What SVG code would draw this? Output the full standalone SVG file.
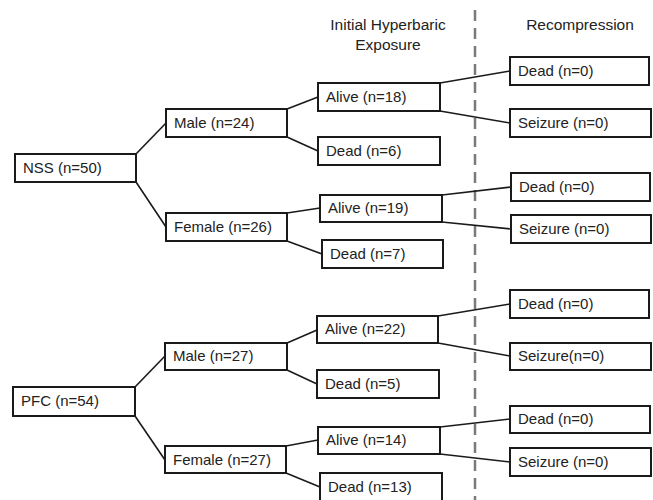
<svg xmlns="http://www.w3.org/2000/svg" width="653" height="500" viewBox="0 0 653 500">
<style>
.box{fill:#fff;stroke:#1a1a1a;stroke-width:2}
.t{font-family:"Liberation Sans",Arial,sans-serif;font-size:15px;fill:#222}
.h{font-family:"Liberation Sans",Arial,sans-serif;font-size:15.5px;fill:#222;text-anchor:middle}
.c{stroke:#1a1a1a;stroke-width:1.6;fill:none}
.dash{stroke:#7a7a7a;stroke-width:2.5;stroke-dasharray:11 7;fill:none}
</style>
<rect width="653" height="500" fill="#fff"/>
<g id="headers">
<text class="h" x="388" y="30">Initial Hyperbaric</text>
<text class="h" x="388" y="50">Exposure</text>
<text class="h" x="580" y="30">Recompression</text>
</g>
<line id="divider" class="dash" x1="475" y1="10" x2="475" y2="500"/>
<g id="connectors">
<line class="c" x1="136" y1="154" x2="166" y2="123"/>
<line class="c" x1="136" y1="182" x2="166" y2="227"/>
<line class="c" x1="287" y1="109" x2="318" y2="97"/>
<line class="c" x1="287" y1="137" x2="318" y2="151"/>
<line class="c" x1="287" y1="213" x2="320" y2="208"/>
<line class="c" x1="287" y1="241" x2="322" y2="254"/>
<line class="c" x1="440" y1="83" x2="510" y2="71"/>
<line class="c" x1="440" y1="111" x2="510" y2="123"/>
<line class="c" x1="442" y1="195" x2="511" y2="187"/>
<line class="c" x1="442" y1="222" x2="511" y2="229"/>
<line class="c" x1="135" y1="387" x2="165" y2="356"/>
<line class="c" x1="135" y1="416" x2="165" y2="460"/>
<line class="c" x1="287" y1="343" x2="317" y2="330"/>
<line class="c" x1="287" y1="370" x2="317" y2="384"/>
<line class="c" x1="286" y1="446" x2="318" y2="440"/>
<line class="c" x1="286" y1="473" x2="320" y2="487"/>
<line class="c" x1="438" y1="316" x2="510" y2="304"/>
<line class="c" x1="438" y1="343" x2="510" y2="356"/>
<line class="c" x1="440" y1="427" x2="510" y2="419"/>
<line class="c" x1="440" y1="454" x2="510" y2="462"/>
</g>
<g id="nss"><rect class="box" x="15" y="154" width="121" height="28"/><text class="t" x="23" y="173">NSS (n=50)</text></g>
<g id="nss-male"><rect class="box" x="166" y="109" width="121" height="28"/><text class="t" x="174" y="128">Male (n=24)</text></g>
<g id="nss-female"><rect class="box" x="166" y="213" width="121" height="28"/><text class="t" x="174" y="232">Female (n=26)</text></g>
<g id="nss-m-alive"><rect class="box" x="318" y="83" width="122" height="28"/><text class="t" x="326" y="102">Alive (n=18)</text></g>
<g id="nss-m-dead"><rect class="box" x="318" y="137" width="122" height="28"/><text class="t" x="326" y="156">Dead (n=6)</text></g>
<g id="nss-m-rc-dead"><rect class="box" x="510" y="57" width="139" height="28"/><text class="t" x="518" y="76">Dead (n=0)</text></g>
<g id="nss-m-rc-seizure"><rect class="box" x="510" y="109" width="141" height="28"/><text class="t" x="518" y="128">Seizure (n=0)</text></g>
<g id="nss-f-alive"><rect class="box" x="320" y="195" width="122" height="27"/><text class="t" x="328" y="213">Alive (n=19)</text></g>
<g id="nss-f-dead"><rect class="box" x="322" y="240" width="121" height="28"/><text class="t" x="330" y="259">Dead (n=7)</text></g>
<g id="nss-f-rc-dead"><rect class="box" x="511" y="173" width="139" height="28"/><text class="t" x="519" y="192">Dead (n=0)</text></g>
<g id="nss-f-rc-seizure"><rect class="box" x="511" y="215" width="140" height="28"/><text class="t" x="519" y="234">Seizure (n=0)</text></g>
<g id="pfc"><rect class="box" x="13" y="387" width="122" height="29"/><text class="t" x="21" y="406">PFC (n=54)</text></g>
<g id="pfc-male"><rect class="box" x="165" y="343" width="122" height="27"/><text class="t" x="173" y="361">Male (n=27)</text></g>
<g id="pfc-female"><rect class="box" x="165" y="446" width="121" height="27"/><text class="t" x="173" y="465">Female (n=27)</text></g>
<g id="pfc-m-alive"><rect class="box" x="317" y="316" width="121" height="27"/><text class="t" x="325" y="334">Alive (n=22)</text></g>
<g id="pfc-m-dead"><rect class="box" x="317" y="370" width="122" height="28"/><text class="t" x="325" y="389">Dead (n=5)</text></g>
<g id="pfc-m-rc-dead"><rect class="box" x="510" y="290" width="139" height="28"/><text class="t" x="518" y="309">Dead (n=0)</text></g>
<g id="pfc-m-rc-seizure"><rect class="box" x="510" y="343" width="141" height="27"/><text class="t" x="518" y="361">Seizure(n=0)</text></g>
<g id="pfc-f-alive"><rect class="box" x="318" y="427" width="122" height="27"/><text class="t" x="326" y="445">Alive (n=14)</text></g>
<g id="pfc-f-dead"><rect class="box" x="320" y="473" width="122" height="28"/><text class="t" x="328" y="492">Dead (n=13)</text></g>
<g id="pfc-f-rc-dead"><rect class="box" x="510" y="406" width="140" height="27"/><text class="t" x="518" y="424">Dead (n=0)</text></g>
<g id="pfc-f-rc-seizure"><rect class="box" x="510" y="448" width="141" height="28"/><text class="t" x="518" y="467">Seizure (n=0)</text></g>
</svg>
